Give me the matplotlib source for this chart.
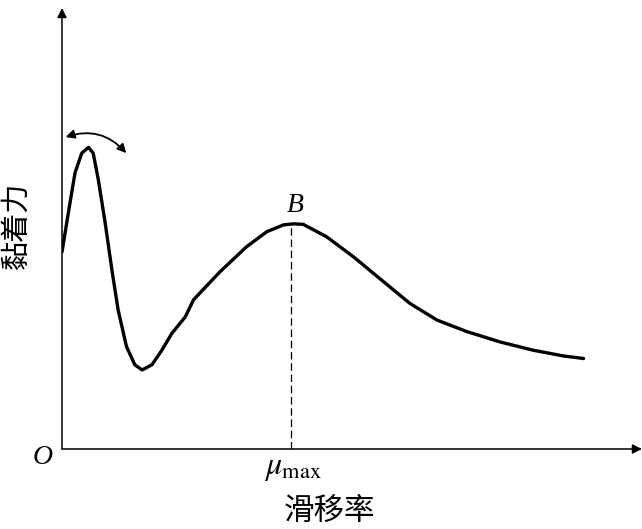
import matplotlib.pyplot as plt
from matplotlib.patches import FancyArrowPatch

# adhesion vs slip rate (arbitrary units)
slip = [0.00, 0.12, 0.25, 0.38, 0.51, 0.60, 0.70, 0.83, 0.96, 1.08, 1.24, 1.40,
        1.54, 1.73, 1.92, 2.11, 2.37, 2.53, 3.04, 3.55, 3.94, 4.26, 4.45, 4.64,
        5.09, 5.60, 6.18, 6.69, 7.21, 7.78, 8.42, 9.06, 9.64, 10.03]
adhesion = [3.79, 4.53, 5.31, 5.69, 5.80, 5.69, 5.17, 4.35, 3.44, 2.67, 1.97, 1.62,
            1.52, 1.62, 1.90, 2.22, 2.54, 2.87, 3.41, 3.89, 4.18, 4.31, 4.33, 4.32,
            4.08, 3.70, 3.22, 2.80, 2.48, 2.26, 2.06, 1.90, 1.79, 1.74]
b_point = (4.40, 4.33)

plt.rcParams['mathtext.fontset'] = 'stix'

fig = plt.figure(figsize=(6.42, 5.29), dpi=100)
ax = fig.add_axes([62 / 642, 80 / 529, 580 / 642, 441 / 529])
ax.set_xlim(0, 580 / 52)
ax.set_ylim(0, 441 / 52)
ax.axis('off')

xmax, ymax = ax.get_xlim()[1], ax.get_ylim()[1]

# axes with arrows
for end in [(xmax, 0), (0, ymax)]:
    ax.annotate('', xy=end, xytext=(0, 0),
                arrowprops=dict(arrowstyle='-|>', lw=1.1, color='k', mutation_scale=14,
                                shrinkA=0, shrinkB=0), annotation_clip=False)

ax.plot(slip, adhesion, color='k', lw=2.4, solid_capstyle='round', solid_joinstyle='round')
ax.plot([b_point[0], b_point[0]], [0, b_point[1]], color='k', lw=0.9, ls=(0, (6, 3)))

# curved double arrow near the first peak
arc = FancyArrowPatch((0.02, 5.98), (1.27, 5.65), connectionstyle='arc3,rad=-0.35',
                      arrowstyle='<|-|>', mutation_scale=13, lw=1.3, color='k')
ax.add_patch(arc)

serif = 'Liberation Serif'
ax.text(b_point[0] + 0.08, b_point[1] + 0.12, 'B', fontsize=20, family=serif, style='italic',
        ha='center', va='bottom')
ax.text(-0.38, -0.17, 'O', fontsize=20, family=serif, style='italic', ha='center', va='center',
        clip_on=False)
ax.text(b_point[0] + 0.05, -0.36, r'$\mu_{\rm max}$', fontsize=23, ha='center', va='center',
        clip_on=False)

ax.text(5.15, -1.21, '滑移率', fontsize=22, family='Noto Sans CJK SC', ha='center',
        va='center', clip_on=False)
ax.text(-0.87, 4.31, '黏着力', fontsize=21, family='Noto Sans CJK SC', rotation=90,
        ha='center', va='center', clip_on=False)

fig.savefig('out.png', dpi=100)
